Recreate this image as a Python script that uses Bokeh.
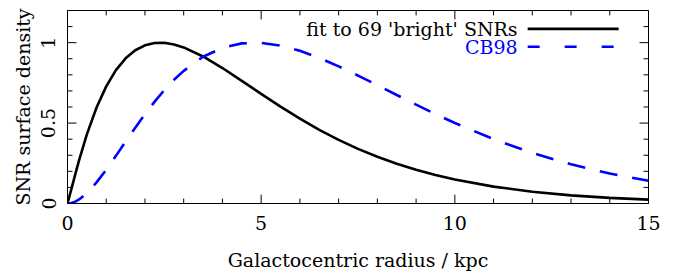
from bokeh.plotting import figure
from bokeh.models import Range1d, Label, Arrow, FixedTicker
from bokeh.embed import file_html
from bokeh.resources import INLINE

# Galactocentric radius (kpc)
radius = [0, 0.1, 0.2, 0.3, 0.5, 0.75, 1, 1.25, 1.5, 1.75, 2, 2.25, 2.5, 2.75, 3,
          3.5, 4, 4.5, 5, 5.5, 6, 6.5, 7, 7.5, 8, 8.5, 9, 9.5, 10, 11, 12, 13, 14, 15]
# fit to 69 'bright' SNRs
fit_bright = [0.0, 0.0892, 0.1814, 0.2697, 0.4297, 0.5965, 0.7284, 0.8290, 0.9026, 0.9528,
              0.9835, 0.9979, 0.9990, 0.9891, 0.9705, 0.9143, 0.8423, 0.7627, 0.6813, 0.6020,
              0.5272, 0.4581, 0.3955, 0.3396, 0.2902, 0.2469, 0.2093, 0.1768, 0.1489, 0.1048,
              0.0731, 0.0506, 0.0348, 0.0238]
# CB98
cb98 = [0.0, 0.0031, 0.0117, 0.0253, 0.0647, 0.1312, 0.2103, 0.2962, 0.3845, 0.4717,
        0.5553, 0.6336, 0.7050, 0.7690, 0.8249, 0.9123, 0.9681, 0.9955, 0.9986, 0.9817,
        0.9493, 0.9051, 0.8529, 0.7956, 0.7354, 0.6746, 0.6145, 0.5562, 0.5008, 0.4000,
        0.3143, 0.2435, 0.1864, 0.1411]

series_names = ["fit to 69 'bright' SNRs", "CB98"]
x_label = "Galactocentric radius / kpc"
y_label = "SNR surface density"
x_major = [0, 5, 10, 15]
x_minor = [1, 2, 3, 4, 6, 7, 8, 9, 11, 12, 13, 14]
y_major = [0, 0.5, 1]
y_minor = [0.1, 0.2, 0.3, 0.4, 0.6, 0.7, 0.8, 0.9, 1.1]
y_tick_labels = {0: "0", 0.5: "0.5", 1: "1"}

FONT = "DejaVu Serif"
FS = "19px"
X0, X1, Y0, Y1 = 0, 15, 0, 1.2

p = figure(width=673, height=273, output_backend="svg", toolbar_location=None,
           x_range=Range1d(X0, X1), y_range=Range1d(Y0, Y1),
           min_border_left=67, min_border_right=25, min_border_top=10, min_border_bottom=67)
p.grid.visible = False
p.outline_line_color = "black"
p.outline_line_width = 1
p.background_fill_color = "white"
p.border_fill_color = "white"

for ax in (p.xaxis[0], p.yaxis[0]):
    ax.axis_line_color = "black"
    ax.major_tick_line_color = None
    ax.minor_tick_line_color = None
    ax.major_tick_in = 0
    ax.major_tick_out = 0
    ax.minor_tick_in = 0
    ax.minor_tick_out = 0
    ax.major_label_text_font = FONT
    ax.major_label_text_font_size = FS
    ax.major_label_text_color = "black"
    ax.axis_label_text_font = FONT
    ax.axis_label_text_font_size = FS
    ax.axis_label_text_font_style = "normal"
    ax.axis_label_text_color = "black"

xa = p.xaxis[0]
xa.ticker = FixedTicker(ticks=x_major)
xa.axis_label = x_label
xa.major_label_standoff = 12
xa.axis_label_standoff = 16

ya = p.yaxis[0]
ya.ticker = FixedTicker(ticks=y_major)
ya.axis_label = y_label
ya.major_label_orientation = "vertical"
ya.major_label_overrides = y_tick_labels
ya.major_label_standoff = 12
ya.axis_label_standoff = 5

# inward tick marks on all four sides (pixel lengths converted to data units)
fw, fh = 673 - 67 - 25, 273 - 10 - 67
sx = (X1 - X0) / fw
sy = (Y1 - Y0) / fh
MAJ, MIN = 9, 5
xs0, ys0, xs1, ys1 = [], [], [], []
for t, L in [(t, MAJ) for t in x_major] + [(t, MIN) for t in x_minor]:
    xs0 += [t, t]; xs1 += [t, t]
    ys0 += [Y0, Y1]; ys1 += [Y0 + L * sy, Y1 - L * sy]
for t, L in [(t, MAJ) for t in y_major] + [(t, MIN) for t in y_minor]:
    ys0 += [t, t]; ys1 += [t, t]
    xs0 += [X0, X1]; xs1 += [X0 + L * sx, X1 - L * sx]
p.segment(xs0, ys0, xs1, ys1, line_color="black", line_width=1)

p.line(radius, fit_bright, line_color="black", line_width=2.6)
p.line(radius, cb98, line_color="#0000ff", line_width=2.6, line_dash="18 15")

# legend (right-aligned labels, samples to the right)
leg_x_text = 11.62
leg_x0, leg_x1 = 11.88, 14.23
leg_y = [1.086, 0.975]
colors = ["black", "#0000ff"]
dashes = ["solid", "12 25"]
for name, yv, c, d in zip(series_names, leg_y, colors, dashes):
    p.add_layout(Label(x=leg_x_text, y=yv, text=name, text_align="right",
                       text_baseline="middle", text_font=FONT, text_font_size=FS,
                       text_color=c))
    p.add_layout(Arrow(end=None, x_start=leg_x0, y_start=yv, x_end=leg_x1, y_end=yv,
                       line_color=c, line_width=2.6, line_dash=d))

open("out.html", "w").write(file_html(p, INLINE))
